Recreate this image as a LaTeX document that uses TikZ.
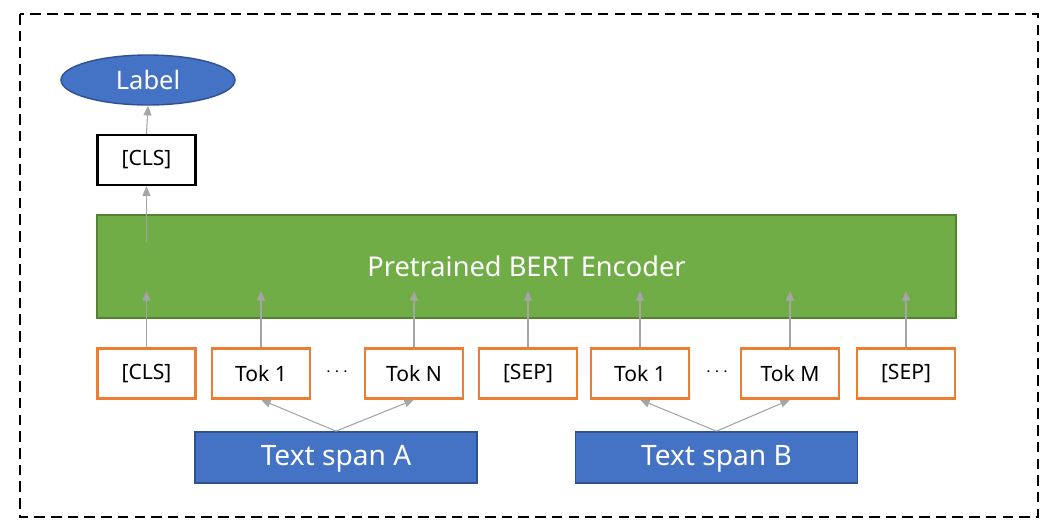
\documentclass[tikz,border=0pt]{standalone}
\usepackage{fontspec}
\setmainfont{Noto Sans}
\usetikzlibrary{arrows.meta,shapes.geometric}

\definecolor{tokorange}{RGB}{237,125,49}
\definecolor{bertgreen}{RGB}{112,173,71}
\definecolor{bertedge}{RGB}{84,130,53}
\definecolor{spanblue}{RGB}{68,114,196}
\definecolor{spanedge}{RGB}{47,82,143}
\definecolor{arrowgray}{RGB}{165,165,165}

\begin{document}
\begin{tikzpicture}[x=0.02cm, y=-0.02cm,
    tok/.style={draw=tokorange, line width=1.4pt, fill=white, minimum width=1.96cm,
                minimum height=1.0cm, inner sep=0pt, font=\fontsize{12}{14}\selectfont},
    span/.style={draw=spanedge, line width=1pt, fill=spanblue, text=white, minimum width=5.64cm,
                 minimum height=1.02cm, inner sep=0pt, text depth=0.5ex, font=\fontsize{16}{18}\selectfont},
    dots/.style={inner sep=0pt, font=\fontsize{10.5}{12}\selectfont},
    up/.style={draw=arrowgray, line width=0.6pt, -{Triangle[length=5.5pt,width=4.5pt]}}]

    \useasboundingbox (0,0) rectangle (1060,531);
    \draw[line width=1.3pt, dash pattern=on 6pt off 3.5pt] (20,14) rectangle (1038,517);

    % output side
    \node[ellipse, draw=spanedge, line width=0.8pt, fill=spanblue, text=white, minimum width=3.48cm,
          minimum height=1.0cm, inner sep=0pt, font=\fontsize{14.5}{16}\selectfont] (label) at (148,80) {Label};
    \node[draw, line width=1.3pt, minimum width=1.96cm, minimum height=1.0cm, inner sep=0pt,
          font=\fontsize{12}{14}\selectfont] (clsout) at (146.5,160) {[CLS]};

    \node[draw=bertedge, line width=1pt, fill=bertgreen, text=white, minimum width=17.18cm,
          minimum height=2.06cm, inner sep=0pt, font=\fontsize{15.5}{18}\selectfont] (bert) at (526.5,266.5)
          {Pretrained BERT Encoder};

    % input tokens
    \node[tok] (cls)   at (146.5,373.5) {[CLS]};
    \node[tok] (tokA1) at (261,373.5) {Tok 1};
    \node[dots] (dotsA) at (337,372) {$\cdots$};
    \node[tok] (tokN)  at (414,373.5) {Tok N};
    \node[tok] (sepA)  at (528,373.5) {[SEP]};
    \node[tok] (tokB1) at (640,373.5) {Tok 1};
    \node[dots] (dotsB) at (717,372) {$\cdots$};
    \node[tok] (tokM)  at (790,373.5) {Tok M};
    \node[tok] (sepB)  at (906,373.5) {[SEP]};

    \node[span] (spanA) at (336,457.5) {Text span A};
    \node[span] (spanB) at (716.5,457.5) {Text span B};

    % arrows
    \foreach \t in {cls,tokA1,tokN,sepA,tokB1,tokM,sepB}
        \draw[up] (\t.north) -- ([yshift=0.56cm]\t.north |- bert.south);
    \draw[up] ([yshift=-0.56cm]clsout.south |- bert.north) -- (clsout.south);
    \draw[up] (clsout.north) -- (label.south);

    \draw[up] (spanA.north) -- (tokA1.south);
    \draw[up] (spanA.north) -- (tokN.south);
    \draw[up] (spanB.north) -- (tokB1.south);
    \draw[up] (spanB.north) -- (tokM.south);
\end{tikzpicture}
\end{document}
